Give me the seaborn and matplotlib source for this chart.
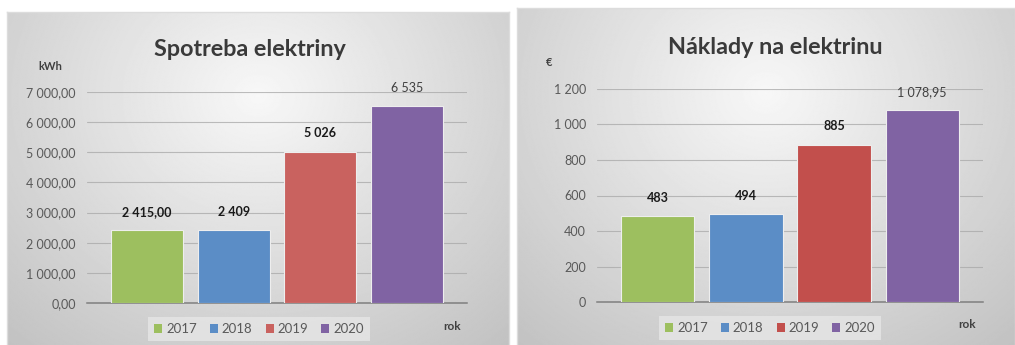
import numpy as np
import pandas as pd
import matplotlib
matplotlib.use("Agg")
import matplotlib.pyplot as plt
from matplotlib.patches import Patch
from matplotlib.ticker import FuncFormatter
import seaborn as sns

# ---- data ----
years = ["2017", "2018", "2019", "2020"]
energy_kwh = [2415.00, 2409, 5026, 6535]
energy_decimals = [2, 0, 0, 0]
energy_bold = [True, True, True, False]
cost_eur = [483, 494, 885, 1078.95]
cost_decimals = [0, 0, 0, 2]
cost_bold = [True, True, True, False]

energy_colors = ["#9dbf5f", "#5b8dc6", "#c9625f", "#8063a3"]
cost_colors = ["#9dbf5f", "#5b8dc6", "#c24f4c", "#8063a3"]

W, H = 1015, 345

sns.set_theme(style="white")
plt.rcParams["font.family"] = ["Lato", "DejaVu Sans"]


def sk_number(v, decimals):
    s = f"{v:,.{decimals}f}"
    return s.replace(",", " ").replace(".", ",")


def frac(x0, y0, x1, y1):
    return [x0 / W, 1 - y1 / H, (x1 - x0) / W, (y1 - y0) / H]


def panel_background(fig, box):
    bg = fig.add_axes(frac(*box), zorder=0)
    yy, xx = np.mgrid[0:1:300j, 0:1:500j]
    r = np.sqrt(((xx - 0.5) / 0.75) ** 2 + ((yy - 0.25) / 1.0) ** 2)
    shade = np.clip(0.97 - 0.21 * r, 0.76, 1.0)
    bg.imshow(shade, cmap="gray", vmin=0, vmax=1, aspect="auto",
              extent=(0, 1, 1, 0), interpolation="bilinear")
    bg.set_xlim(0, 1)
    bg.set_ylim(1, 0)
    bg.set_xticks([])
    bg.set_yticks([])
    for s in bg.spines.values():
        s.set_color("#dcdcdc")
        s.set_linewidth(1.0)
    return bg


def bar_panel(fig, plot_box, values, colors, decimals, bold, ymax, step,
              tick_dec, unit, unit_xy, title, title_xy, rok_xy, leg_xy):
    ax = fig.add_axes(frac(*plot_box), zorder=2)
    ax.patch.set_alpha(0)
    df = pd.DataFrame({"rok": years, "hodnota": values})
    sns.barplot(data=df, x="rok", y="hodnota", hue="rok", palette=colors,
                saturation=1, dodge=False, width=0.83, legend=False, ax=ax,
                edgecolor="#eeeeee", linewidth=0.8, zorder=3)
    ax.set_xlim(-0.69, 3.69)
    ax.set_ylim(0, ymax)
    ax.set_yticks(np.arange(0, ymax + step / 2, step))
    ax.yaxis.set_major_formatter(FuncFormatter(lambda v, p: sk_number(v, tick_dec)))
    ax.set_xticks([])
    ax.set_xlabel("")
    ax.set_ylabel("")
    ax.tick_params(axis="y", length=0, pad=8, labelsize=9, labelcolor="#595959")
    ax.grid(axis="y", color="#a8a8a8", linewidth=0.8, alpha=0.75, zorder=1)
    ax.set_axisbelow(True)
    for side in ("top", "right", "left"):
        ax.spines[side].set_visible(False)
    ax.spines["bottom"].set_color("#7f7f7f")
    ax.spines["bottom"].set_linewidth(1.1)

    for i, (v, d, b) in enumerate(zip(values, decimals, bold)):
        ax.annotate(sk_number(v, d), (i, v), xytext=(0, 9),
                    textcoords="offset points", ha="center", va="bottom",
                    fontsize=9, fontweight="bold" if b else "normal",
                    color="#1a1a1a" if b else "#404040")

    fig.text(title_xy[0] / W, 1 - title_xy[1] / H, title, ha="center",
             va="center", fontsize=16.8, fontweight="bold", color="#3a3a3a")
    fig.text(unit_xy[0] / W, 1 - unit_xy[1] / H, unit, ha="center",
             va="center", fontsize=8, fontweight="bold", color="#404040")
    fig.text(rok_xy[0] / W, 1 - rok_xy[1] / H, "rok", ha="center",
             va="center", fontsize=8.5, fontweight="bold", color="#404040")

    handles = [Patch(facecolor=c, edgecolor="none", label=y)
               for c, y in zip(colors, years)]
    leg = fig.legend(handles=handles, loc="center", ncol=4,
                     bbox_to_anchor=(leg_xy[0] / W, 1 - leg_xy[1] / H),
                     frameon=True, facecolor="#e6e6e6", edgecolor="none",
                     fancybox=False, framealpha=0.8, fontsize=9.5,
                     handlelength=0.6, handleheight=0.6, handletextpad=0.3,
                     columnspacing=1.0, borderpad=0.45)
    for t in leg.get_texts():
        t.set_color("#595959")
    return ax


fig = plt.figure(figsize=(W / 100, H / 100), dpi=100)
fig.patch.set_facecolor("white")

panel_background(fig, (7, 12, 509, 346))
panel_background(fig, (517, 8, 1015, 346))

bar_panel(fig, (87, 92, 467, 303), energy_kwh, energy_colors,
          energy_decimals, energy_bold, 7000, 1000, 2, "kWh", (50, 67),
          "Spotreba elektriny", (250, 50), (452, 326), (259, 329))

bar_panel(fig, (597, 89, 983, 302), cost_eur, cost_colors,
          cost_decimals, cost_bold, 1200, 200, 0, "€", (549, 63),
          "Náklady na elektrinu", (775, 47), (967, 325), (770, 328))

fig.savefig("out.png", dpi=100, facecolor="white")
